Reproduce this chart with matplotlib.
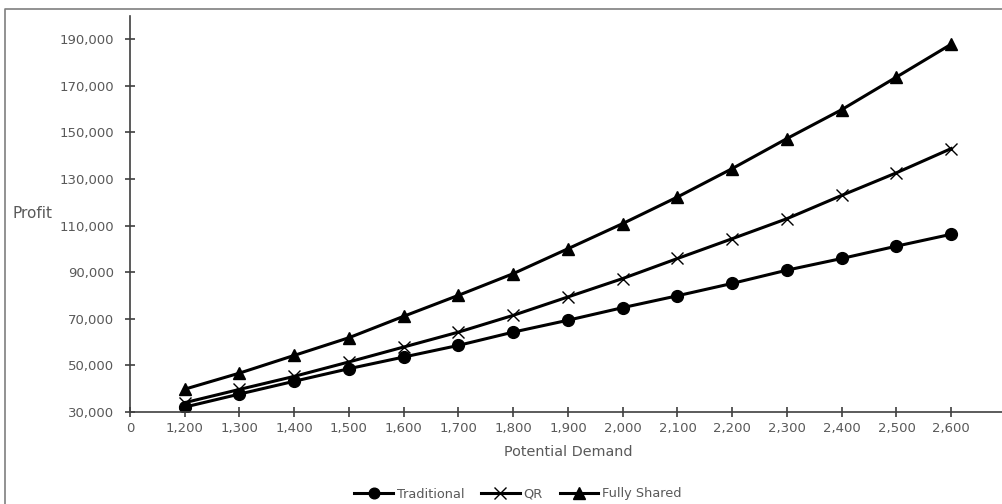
import numpy as np
import matplotlib
matplotlib.use("Agg")
import matplotlib.pyplot as plt
from matplotlib.lines import Line2D

# categories on the x axis (Excel style category axis, first one is empty "0")
demand = [1200, 1300, 1400, 1500, 1600, 1700, 1800, 1900,
          2000, 2100, 2200, 2300, 2400, 2500, 2600]
categories = [0] + demand

traditional = [32100, 37700, 43200, 48600, 53600, 58600, 64300, 69400,
               74800, 79900, 85200, 90900, 95900, 101200, 106300]
qr = [34000, 39700, 45300, 51500, 57900, 64300, 71500, 79400,
      87300, 95900, 104400, 113000, 123000, 132700, 143100]
fully_shared = [39800, 46700, 54300, 61900, 71100, 80100, 89400, 100100,
                110900, 122300, 134500, 147400, 159800, 173800, 187900]

y_ticks = list(range(30000, 190001, 20000))

GRAY = '#595959'
plt.rcParams['font.family'] = ['DejaVu Sans']

fig = plt.figure(figsize=(10.03, 5.04), dpi=100)
W, H = 1003, 504

# outer chart frame (only top and left edges visible in the crop)
fig.lines.append(Line2D([5 / W, 5 / W, 1.0], [0.0, 1 - 9 / H, 1 - 9 / H],
                        transform=fig.transFigure, color='#7f7f7f',
                        linewidth=1.2))

ax = fig.add_axes([130 / W, (H - 412) / H, 876 / W, 396 / H])

pos = np.arange(1, len(demand) + 1)
ax.plot(pos, traditional, color='black', linewidth=2.2, marker='o',
        markersize=8.5, label='Traditional')
ax.plot(pos, qr, color='black', linewidth=2.2, marker='x',
        markersize=9, markeredgewidth=1.0, label='QR')
ax.plot(pos, fully_shared, color='black', linewidth=2.2, marker='^',
        markersize=9, label='Fully Shared')

ax.set_xlim(0, 16)
ax.set_ylim(30000, 200000)
ax.set_xticks(range(len(categories)))
ax.set_xticklabels(['{:,}'.format(c) for c in categories])
ax.set_yticks(y_ticks)
ax.set_yticklabels(['{:,}'.format(v) for v in y_ticks])

for s in ['top', 'right']:
    ax.spines[s].set_visible(False)
for s in ['left', 'bottom']:
    ax.spines[s].set_color('#404040')
    ax.spines[s].set_linewidth(1.2)

ax.tick_params(direction='inout', length=7, width=1.2, color='#404040',
               labelcolor=GRAY, labelsize=9.5)
ax.tick_params(axis='x', pad=4)
ax.tick_params(axis='y', pad=8)

fig.text(12 / W, 1 - 214 / H, 'Profit', color=GRAY, fontsize=11,
         ha='left', va='center')
fig.text(568 / W, 1 - 452 / H, 'Potential Demand', color=GRAY, fontsize=10.4,
         ha='center', va='center')

fig.legend(loc='center', bbox_to_anchor=(518 / W, 1 - 494 / H), ncol=3,
           frameon=False, fontsize=9.3, labelcolor=GRAY, handlelength=3.0,
           columnspacing=1.3, handletextpad=0.3, markerscale=0.9)

fig.savefig('out.png', dpi=100)
